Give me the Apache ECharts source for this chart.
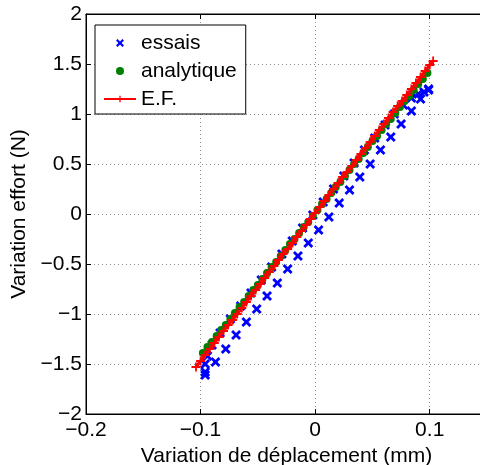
<!DOCTYPE html>
<html>
<head>
<meta charset="utf-8">
<script src="https://cdn.jsdelivr.net/npm/echarts@6/dist/echarts.min.js"></script>
<style>
html, body { margin:0; padding:0; background:#fff; }
#chart { width:480px; height:465px; }
</style>
</head>
<body>
<div id="chart"></div>
<script>
// essais : aller (branche basse) puis retour (branche haute)
const essaisX = [-0.096, -0.087, -0.078, -0.069, -0.060, -0.051, -0.042, -0.033, -0.024, -0.015, -0.006, 0.003,
    0.012, 0.021, 0.030, 0.039, 0.048, 0.057, 0.066, 0.075, 0.084, 0.092, 0.099,
    0.099, 0.095, 0.090, 0.084, 0.077, 0.069, 0.061, 0.052, 0.043, 0.034, 0.025, 0.016, 0.007, -0.002,
    -0.011, -0.020, -0.029, -0.038, -0.047, -0.056, -0.065, -0.074, -0.083, -0.090, -0.094, -0.096, -0.096];
const essaisY = [-1.61, -1.48, -1.35, -1.21, -1.08, -0.95, -0.82, -0.69, -0.55, -0.42, -0.29, -0.16,
    -0.03, 0.11, 0.24, 0.37, 0.50, 0.64, 0.77, 0.90, 1.03, 1.15, 1.25,
    1.24, 1.22, 1.20, 1.16, 1.09, 1.00, 0.89, 0.76, 0.64, 0.51, 0.38, 0.25, 0.12, -0.01,
    -0.14, -0.27, -0.40, -0.53, -0.66, -0.79, -0.92, -1.05, -1.19, -1.31, -1.42, -1.50, -1.58];

const analytiqueX = [-0.098, -0.094, -0.090, -0.086, -0.082, -0.078, -0.074, -0.070, -0.066, -0.062,
    -0.058, -0.054, -0.050, -0.046, -0.042, -0.038, -0.034, -0.030, -0.026, -0.022, -0.018, -0.014,
    -0.010, -0.006, -0.002, 0.002, 0.006, 0.010, 0.014, 0.018, 0.022, 0.026, 0.030, 0.034, 0.038,
    0.042, 0.046, 0.050, 0.054, 0.058, 0.062, 0.066, 0.070, 0.074, 0.078, 0.082, 0.086, 0.090,
    0.094, 0.098];
const analytiqueY = [-1.39, -1.33, -1.28, -1.22, -1.16, -1.11, -1.05, -0.99, -0.93, -0.88,
    -0.82, -0.76, -0.71, -0.65, -0.59, -0.53, -0.48, -0.42, -0.36, -0.30, -0.25, -0.19,
    -0.13, -0.08, -0.02, 0.04, 0.10, 0.15, 0.21, 0.27, 0.32, 0.38, 0.44, 0.50, 0.55,
    0.61, 0.67, 0.73, 0.78, 0.84, 0.90, 0.95, 1.01, 1.07, 1.13, 1.18, 1.24, 1.30,
    1.35, 1.41];

const efX = [-0.104, -0.100, -0.096, -0.092, -0.088, -0.084, -0.080, -0.076, -0.072, -0.068, -0.064,
    -0.060, -0.056, -0.052, -0.048, -0.044, -0.040, -0.036, -0.032, -0.028, -0.024, -0.020, -0.016,
    -0.012, -0.008, -0.004, 0.000, 0.004, 0.008, 0.012, 0.016, 0.020, 0.024, 0.028, 0.032, 0.036,
    0.040, 0.044, 0.048, 0.052, 0.056, 0.060, 0.064, 0.068, 0.072, 0.076, 0.080, 0.084, 0.088,
    0.092, 0.096, 0.100, 0.103];
const efY = [-1.53, -1.47, -1.41, -1.35, -1.29, -1.23, -1.17, -1.11, -1.06, -1.00, -0.94,
    -0.88, -0.82, -0.76, -0.70, -0.64, -0.58, -0.52, -0.46, -0.40, -0.35, -0.29, -0.23,
    -0.17, -0.11, -0.05, 0.01, 0.07, 0.13, 0.19, 0.25, 0.31, 0.37, 0.42, 0.48, 0.54,
    0.60, 0.66, 0.72, 0.78, 0.84, 0.90, 0.96, 1.02, 1.08, 1.13, 1.19, 1.25, 1.31,
    1.37, 1.43, 1.49, 1.53];

const xTicks = [-0.2, -0.1, 0, 0.1];
const yTicks = [-2, -1.5, -1, -0.5, 0, 0.5, 1, 1.5, 2];

const zip = (xs, ys) => xs.map((x, i) => [x, ys[i]]);
const FONT = 'Liberation Sans, Arial, Helvetica, sans-serif';
const CROSS = 'path://M0,2L2,0L5,3L8,0L10,2L7,5L10,8L8,10L5,7L2,10L0,8L3,5Z';
const PLUS = 'path://M4,0H6V4H10V6H6V10H4V6H0V4H4Z';

function fmt(v, list){
    let r = Math.round(v * 100) / 100;
    if ( !list.some(t => Math.abs(t - r) < 1e-9) ) return '';
    return String(r).replace('-', '\u2212');
}

const gridLine = { show:true, lineStyle:{ color:'#8c8c8c', type:[1,3], width:1 } };

let myChart = echarts.init(document.getElementById('chart'));
let option = {
    animation:false,
    backgroundColor:'#fff',
    grid:{ left:86, top:14, width:401, bottom:51, outerBoundsMode:'none', containLabel:false,
        show:true, borderColor:'#000', borderWidth:1 },
    legend:{
        left:95, top:25,
        orient:'vertical',
        backgroundColor:'#fff',
        borderColor:'#000', borderWidth:1,
        padding:[6,9,3,8],
        itemGap:4,
        itemWidth:32, itemHeight:8,
        textStyle:{ fontFamily:FONT, fontSize:21, color:'#000', lineHeight:24 },
        data:['essais','analytique','E.F.']
    },
    xAxis:[{
        type:'value', min:-0.2, max:0.15, interval:0.1,
        name:'Variation de déplacement (mm)', nameLocation:'middle', nameGap:26,
        nameTextStyle:{ fontFamily:FONT, fontSize:21, color:'#000' },
        axisLine:{ show:true, onZero:false, lineStyle:{ color:'#000', width:1 } },
        axisTick:{ show:true, inside:true, length:5, lineStyle:{ color:'#000' } },
        axisLabel:{ fontFamily:FONT, fontSize:21, color:'#000', margin:6,
            formatter:(v)=>fmt(v, xTicks) },
        splitLine:gridLine
    },{
        type:'value', position:'top', min:-0.2, max:0.15, interval:0.1,
        axisLine:{ show:true, onZero:false, lineStyle:{ color:'#000', width:1 } },
        axisTick:{ show:true, inside:true, length:5, lineStyle:{ color:'#000' } },
        axisLabel:{ show:false },
        splitLine:{ show:false }
    }],
    yAxis:{
        type:'value', min:-2, max:2, interval:0.5,
        name:'Variation effort (N)', nameLocation:'middle', nameGap:46,
        nameTextStyle:{ fontFamily:FONT, fontSize:21, color:'#000' },
        axisLine:{ show:true, onZero:false, lineStyle:{ color:'#000', width:1 } },
        axisTick:{ show:true, inside:true, length:5, lineStyle:{ color:'#000' } },
        axisLabel:{ fontFamily:FONT, fontSize:21, color:'#000', margin:4,
            formatter:(v)=>fmt(v, yTicks) },
        splitLine:gridLine
    },
    series:[
        {
            name:'essais', type:'scatter',
            symbol:CROSS, symbolSize:10,
            itemStyle:{ color:'#0000ff', opacity:1 },
            data:zip(essaisX, essaisY)
        },
        {
            name:'analytique', type:'scatter',
            symbol:'circle', symbolSize:8,
            itemStyle:{ color:'#008000', opacity:1 },
            data:zip(analytiqueX, analytiqueY)
        },
        {
            name:'E.F.', type:'line',
            symbol:PLUS, symbolSize:9, showAllSymbol:true,
            lineStyle:{ color:'#ff0000', width:3 },
            itemStyle:{ color:'#ff0000', opacity:1 },
            data:zip(efX, efY)
        }
    ]
};
myChart.setOption(option);
</script>
</body>
</html>
